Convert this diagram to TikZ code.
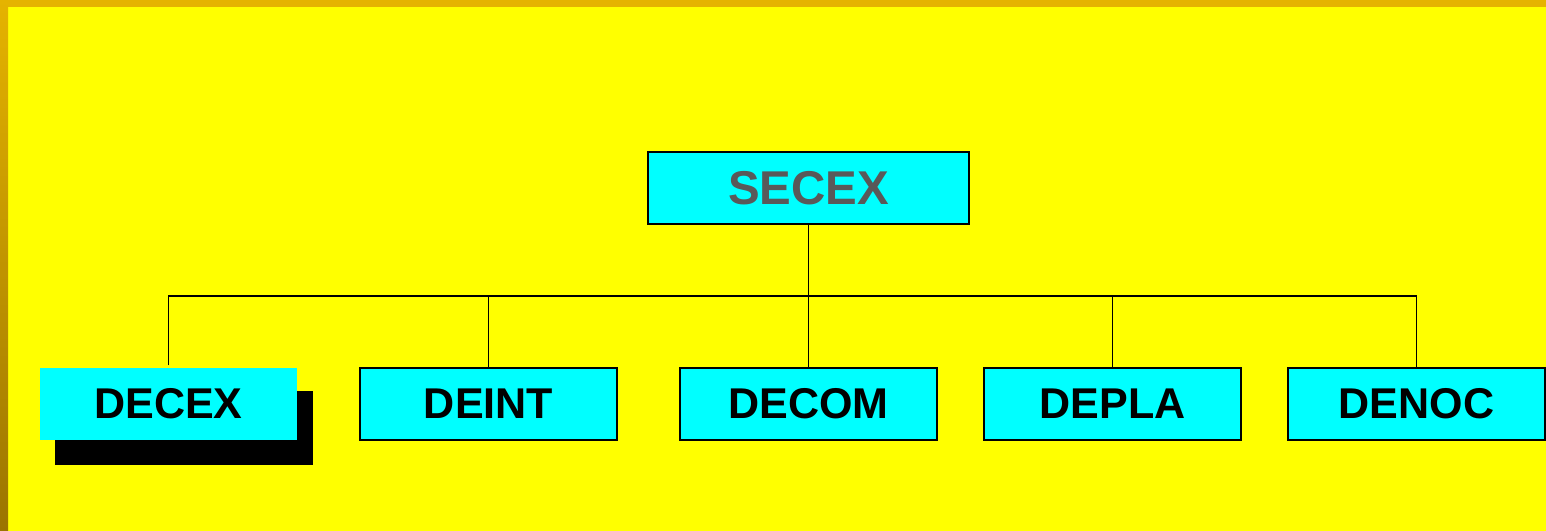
\documentclass[tikz,border=0pt]{standalone}
\usepackage{fontspec}
\setmainfont{Liberation Sans}
\usepackage{xcolor}
\usetikzlibrary{positioning}

\definecolor{bgyellow}{RGB}{255,255,0}
\definecolor{boxcyan}{RGB}{0,255,255}
\definecolor{framegold}{RGB}{229,179,0}
\definecolor{framedark}{RGB}{155,117,0}
\definecolor{headgray}{RGB}{89,89,89}

\tikzset{
  unitbox/.style={draw=black, line width=0.8pt, fill=boxcyan, inner sep=0pt,
    minimum width=5.14cm, minimum height=1.44cm,
    font=\fontsize{24.5}{24.5}\selectfont\bfseries},
  headbox/.style={unitbox, minimum width=6.42cm, text=headgray,
    font=\fontsize{27}{27}\selectfont\bfseries},
  link/.style={line width=0.8pt}
}

\begin{document}
\begin{tikzpicture}[x=0.02cm,y=-0.02cm]
\useasboundingbox (0,0) rectangle (1546,531);
\fill[bgyellow] (0,0) rectangle (1546,531);
\fill[framegold] (0,0) rectangle (1546,7);
\shade[top color=framegold,bottom color=framedark] (0,0) rectangle (8,531);

% top of the chart
\node[headbox] (secex) at (808.5,188) {SECEX};
\coordinate (bus) at (808.5,296);

% departments
\fill[black] (55,391) rectangle (313,465);
\node[unitbox,draw=none] (decex) at (168.5,404) {DECEX};
\node[unitbox] (deint) at (488.5,404) {DEINT};
\node[unitbox] (decom) at (808.5,404) {DECOM};
\node[unitbox] (depla) at (1112.5,404) {DEPLA};
\node[unitbox] (denoc) at (1416.5,404) {DENOC};

% connectors
\draw[link] (secex.south) -- (bus);
\draw[link] ([yshift=0.04cm]decex.north) -- (decex.north |- bus) -- (denoc.north |- bus) -- (denoc.north);
\draw[link] (deint.north) -- (deint.north |- bus);
\draw[link] (decom.north) -- (decom.north |- bus);
\draw[link] (depla.north) -- (depla.north |- bus);
\end{tikzpicture}
\end{document}
